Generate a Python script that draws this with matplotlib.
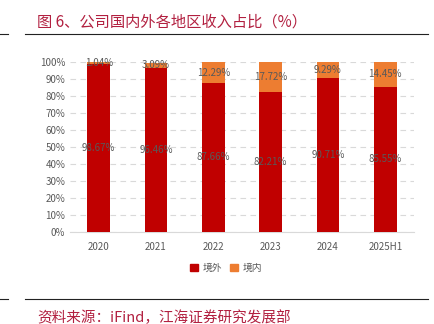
import matplotlib
matplotlib.use("Agg")
import matplotlib.pyplot as plt
import numpy as np
from matplotlib.patches import Rectangle
from matplotlib.lines import Line2D

plt.rcParams['font.family'] = ['Noto Sans CJK SC', 'DejaVu Sans']

# data
years = ["2020", "2021", "2022", "2023", "2024", "2025H1"]
overseas = [98.67, 96.46, 87.66, 82.21, 90.71, 85.55]
domestic = [1.04, 3.09, 12.29, 17.72, 9.29, 14.45]
series_names = ["境外", "境内"]

title = "图 6、公司国内外各地区收入占比（%）"
source = "资料来源：iFind，江海证券研究发展部"

red = "#C00000"
orange = "#ED7D31"
label_grey = "#595959"
head_red = "#B22040"

W, H = 435, 324
fig = plt.figure(figsize=(W / 100, H / 100), dpi=100)

# axes placement in pixels
left, right, top, bottom = 70, 414, 62, 232
ax = fig.add_axes([left / W, 1 - bottom / H, (right - left) / W, (bottom - top) / H])

x = np.arange(len(years))
ax.bar(x, overseas, width=0.4, color=red, zorder=3)
ax.bar(x, domestic, width=0.4, bottom=overseas, color=orange, zorder=3)

for i in range(len(years)):
    ax.text(x[i], overseas[i] / 2, f"{overseas[i]:.2f}%", ha="center", va="center",
            fontsize=7, color=label_grey, zorder=4)
    ax.text(x[i], overseas[i] + domestic[i] / 2, f"{domestic[i]:.2f}%", ha="center",
            va="center", fontsize=7, color=label_grey, zorder=4)

ax.set_xlim(-0.5, len(years) - 0.5)
ax.set_ylim(0, 100)
ax.set_yticks(np.arange(0, 101, 10))
ax.set_yticklabels([f"{v}%" for v in range(0, 101, 10)])
ax.set_xticks(x)
ax.set_xticklabels(years)
ax.tick_params(axis="both", length=0, labelsize=7, labelcolor=label_grey)
ax.tick_params(axis="x", pad=7)
ax.yaxis.grid(True, linestyle=(0, (5, 4)), color="#D9D9D9", linewidth=0.8, zorder=0)
for s in ["top", "right", "left"]:
    ax.spines[s].set_visible(False)
ax.spines["bottom"].set_color("#D9D9D9")

handles = [Rectangle((0, 0), 1, 1, color=red), Rectangle((0, 0), 1, 1, color=orange)]
fig.legend(handles, series_names, loc="center", bbox_to_anchor=(226 / W, 1 - 268 / H),
           ncol=2, frameon=False, fontsize=7, labelcolor=label_grey,
           handlelength=0.8, handleheight=0.8, handletextpad=0.5, columnspacing=0.8)

# header and footer
fig.text(37 / W, 1 - 22 / H, title, fontsize=11, color=head_red, va="center", ha="left")
fig.text(37 / W, 1 - 318 / H, source, fontsize=10.5, color=head_red, va="center", ha="left")
for yy in (34, 299):
    fig.add_artist(Line2D([25 / W, 428 / W], [1 - yy / H] * 2, color="#222222", linewidth=0.8))
    fig.add_artist(Line2D([0, 8 / W], [1 - yy / H] * 2, color="#222222", linewidth=0.8))

fig.savefig("out.png", dpi=100)
